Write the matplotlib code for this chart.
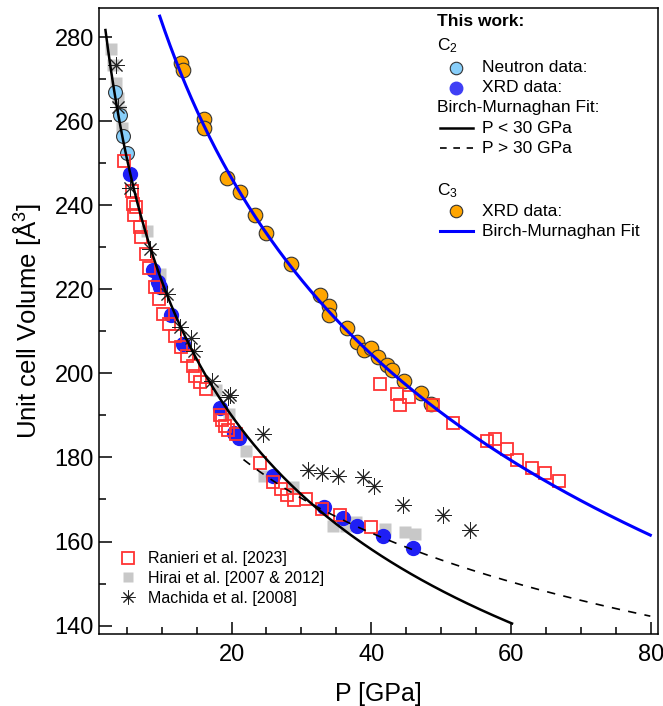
import numpy as np
import matplotlib
matplotlib.use('Agg')
import matplotlib.pyplot as plt
from matplotlib.lines import Line2D

plt.rcParams['font.family'] = ['Liberation Sans', 'DejaVu Sans']
plt.rcParams['mathtext.fontset'] = 'custom'
plt.rcParams['mathtext.rm'] = 'Liberation Sans'
plt.rcParams['mathtext.it'] = 'Liberation Sans:italic'

# --- This work, C2 ---
neutron_P = [3.3, 4.0, 4.5, 5.0]
neutron_V = [267.0, 261.4, 256.5, 252.5]

c2_xrd_P = [5.4, 8.8, 9.5, 9.7, 11.4, 13.1, 18.3, 20.3, 21.0, 25.9, 33.3, 35.9, 37.9, 41.7, 46.0]
c2_xrd_V = [247.5, 224.7, 221.7, 220.5, 214.0, 207.1, 191.8, 185.9, 184.7, 175.7, 168.3, 165.6, 163.6, 161.2, 158.5]

# --- This work, C3 ---
c3_xrd_P = [12.7, 13.0, 16.1, 16.1, 19.3, 21.2, 23.4, 24.9, 28.5, 32.7, 34.0, 33.9, 36.5, 37.9,
            39.0, 39.9, 41.0, 42.3, 43.0, 44.7, 47.1, 48.6]
c3_xrd_V = [273.9, 272.3, 260.6, 258.5, 246.4, 243.2, 237.6, 233.3, 226.1, 218.7, 216.0, 213.8, 210.8, 207.5,
            205.5, 206.1, 203.9, 201.9, 200.7, 198.2, 195.4, 192.8]

# --- literature ---
ranieri_P = [4.6, 5.8, 5.9, 6.3, 6.1, 6.9, 7.1, 7.7, 8.2, 9.0, 9.6, 10.2, 11.1, 11.9, 12.7, 13.6, 14.5,
             14.8, 15.5, 16.3, 18.3, 18.7, 19.0, 19.5, 20.6, 24.1, 25.9, 27.1, 28.0, 29.0, 30.7, 33.0,
             35.5, 39.9, 41.3, 43.7, 45.4, 44.1, 48.8, 51.7, 56.5, 57.7, 59.5, 60.9, 63.0, 64.9, 66.9]
ranieri_V = [250.5, 243.4, 240.4, 239.5, 237.6, 234.8, 232.4, 228.5, 225.2, 220.6, 217.8, 214.2, 211.7,
             209.0, 206.2, 204.1, 201.7, 199.5, 197.9, 196.2, 190.0, 188.8, 187.6, 186.6, 185.6, 178.7,
             174.1, 172.5, 171.0, 169.8, 170.2, 167.8, 166.2, 163.4, 197.4, 195.2, 194.4, 192.4, 192.4,
             188.3, 184.0, 184.4, 181.9, 179.3, 177.4, 176.3, 174.5]

hirai_P = [2.7, 3.0, 3.5, 3.8, 4.0, 4.3, 7.9, 9.7, 17.8, 19.7, 22.1, 24.7, 28.8, 34.5, 36.4, 37.8,
           41.9, 44.8, 46.2]
hirai_V = [277.3, 273.5, 269.2, 265.5, 262.5, 258.5, 234.0, 223.7, 196.0, 190.4, 181.6, 175.7, 172.9,
           163.8, 163.8, 164.6, 163.0, 162.2, 161.8]

machida_P = [3.4, 3.8, 5.4, 8.3, 10.7, 12.6, 14.2, 14.6, 17.2, 19.5, 19.8, 24.5, 30.9, 33.0, 35.2,
             38.8, 40.4, 44.6, 50.2, 54.2]
machida_V = [273.3, 263.3, 244.0, 229.7, 218.8, 211.0, 208.5, 205.3, 198.3, 194.4, 194.8, 185.6, 177.1,
             176.3, 175.7, 175.3, 173.1, 168.6, 166.2, 162.8]

# Birch-Murnaghan parameters (V0 [A^3], K0 [GPa], K0')
bm_c2_low = (315.0, 13.9, 4.1)
bm_c2_high = (260.0, 12.8, 9.6)
bm_c3 = (360.0, 28.0, 3.45)


def birch_murnaghan(V, V0, K0, Kp):
    x = (V0 / V) ** (2.0 / 3.0)
    f = (x - 1.0) / 2.0
    return 3.0 * K0 * f * x ** 2.5 * (1.0 + 1.5 * (Kp - 4.0) * f)


V_c2_low = np.linspace(281.7, 140.5, 300)
V_c2_high = np.linspace(179.5, 140.0, 300)
V_c3 = np.linspace(285.0, 155.0, 300)
P_c2_low = birch_murnaghan(V_c2_low, *bm_c2_low)
P_c2_high = birch_murnaghan(V_c2_high, *bm_c2_high)
P_c3 = birch_murnaghan(V_c3, *bm_c3)
m_hi = P_c2_high <= 80
m_c3 = P_c3 <= 80

fig = plt.figure(figsize=(6.63, 7.06), dpi=100)
ax = fig.add_axes([0.149, 0.102, 0.843, 0.887])

ax.plot(hirai_P, hirai_V, 's', ms=8, color='#c8c8c8', mec='none', zorder=2)
ax.plot(neutron_P, neutron_V, 'o', ms=10, mfc='#87cefa', mec='#333333', mew=0.8, zorder=3)
ax.plot(c2_xrd_P, c2_xrd_V, 'o', ms=10, color='#1f1ff5', mec='#1f1ff5', zorder=3)
ax.plot(c3_xrd_P, c3_xrd_V, 'o', ms=10.5, mfc='#ffa500', mec='#333333', mew=0.8, zorder=3)
ax.plot(ranieri_P, ranieri_V, 's', ms=9, mfc='none', mec='#ff3333', mew=1.3, zorder=4)
ax.plot(machida_P, machida_V, marker=(8, 2, 0), ls='none', ms=12, color='#222222', mew=0.7, zorder=5)
ax.plot(machida_P, machida_V, '.', ms=3, color='#222222', zorder=5)

ax.plot(P_c2_low, V_c2_low, color='black', lw=1.8, zorder=6)
ax.plot(P_c2_high[m_hi], V_c2_high[m_hi], color='black', lw=1.2, dashes=(5, 5), zorder=6)
ax.plot(P_c3[m_c3], V_c3[m_c3], color='#0000ff', lw=2.2, zorder=6)

ax.set_xlim(1, 81)
ax.set_ylim(138, 287)
ax.set_xticks([20, 40, 60, 80])
ax.set_xticks(np.arange(5, 81, 5), minor=True)
ax.set_yticks(np.arange(140, 281, 20))
ax.set_yticks(np.arange(140, 286, 10), minor=True)
ax.tick_params(which='both', direction='in', top=False, right=False, labelsize=17, width=1.1)
ax.tick_params(which='major', length=9)
ax.tick_params(which='minor', length=5)
ax.tick_params(axis='x', pad=7)
for s in ax.spines.values():
    s.set_linewidth(1.1)

ax.set_xlabel('P [GPa]', fontsize=18, labelpad=12)
ax.set_ylabel('Unit cell Volume [Å$^3$]', fontsize=18.5, labelpad=8)

# literature legend, lower left
lit_handles = [
    Line2D([], [], ls='none', marker='s', ms=8, mfc='none', mec='#ff3333', mew=1.3),
    Line2D([], [], ls='none', marker='s', ms=7, color='#c8c8c8', mec='none'),
    Line2D([], [], ls='none', marker=(8, 2, 0), ms=10, color='#222222', mew=0.7),
]
lit_labels = ['Ranieri et al. [2023]', 'Hirai et al. [2007 & 2012]', 'Machida et al. [2008]']
ax.legend(lit_handles, lit_labels, loc='lower left', bbox_to_anchor=(0.01, 0.022), frameon=False,
          fontsize=11.5, handlelength=1.2, handletextpad=0.6, labelspacing=0.3)

# "This work" legend, top right
hx, kx, tx = 0.605, 0.640, 0.685
lx = [0.610, 0.669]
ax.text(hx, 0.978, 'This work:', transform=ax.transAxes, fontsize=12.5, fontweight='bold', va='center')
ax.text(hx, 0.940, 'C$_2$', transform=ax.transAxes, fontsize=12.5, va='center')
ax.plot([kx], [0.904], 'o', ms=9, mfc='#87cefa', mec='#333333', mew=0.8, transform=ax.transAxes, clip_on=False)
ax.text(tx, 0.904, 'Neutron data:', transform=ax.transAxes, fontsize=12.5, va='center')
ax.plot([kx], [0.872], 'o', ms=9, color='#3f3ff5', transform=ax.transAxes, clip_on=False)
ax.text(tx, 0.872, 'XRD data:', transform=ax.transAxes, fontsize=12.5, va='center')
ax.text(hx, 0.840, 'Birch-Murnaghan Fit:', transform=ax.transAxes, fontsize=12.5, va='center')
ax.plot(lx, [0.808, 0.808], color='black', lw=1.8, transform=ax.transAxes)
ax.text(tx, 0.808, 'P < 30 GPa', transform=ax.transAxes, fontsize=12.5, va='center')
ax.plot(lx, [0.776, 0.776], color='black', lw=1.2, dashes=(4, 4), transform=ax.transAxes)
ax.text(tx, 0.776, 'P > 30 GPa', transform=ax.transAxes, fontsize=12.5, va='center')
ax.text(hx, 0.708, 'C$_3$', transform=ax.transAxes, fontsize=12.5, va='center')
ax.plot([kx], [0.675], 'o', ms=9, mfc='#ffa500', mec='#333333', mew=0.8, transform=ax.transAxes, clip_on=False)
ax.text(tx, 0.675, 'XRD data:', transform=ax.transAxes, fontsize=12.5, va='center')
ax.plot(lx, [0.643, 0.643], color='#0000ff', lw=2.2, transform=ax.transAxes)
ax.text(tx, 0.643, 'Birch-Murnaghan Fit', transform=ax.transAxes, fontsize=12.5, va='center')

fig.savefig('out.png', dpi=100)
